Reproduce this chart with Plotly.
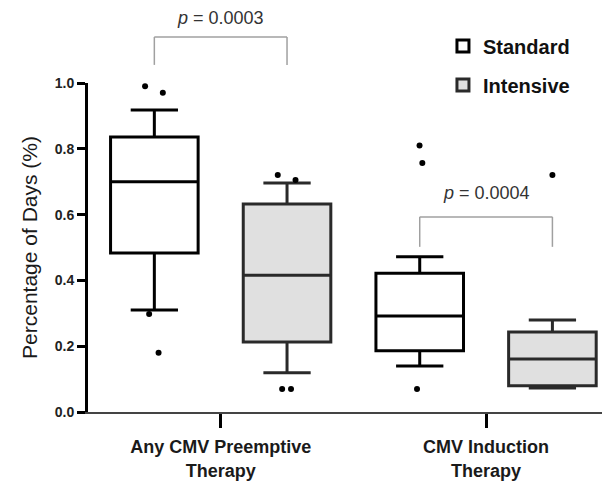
import plotly.graph_objects as go

categories = ["Any CMV Preemptive<br>Therapy", "CMV Induction<br>Therapy"]

# Box statistics (fraction of days)
std_q1 = [0.483, 0.186]
std_median = [0.70, 0.292]
std_q3 = [0.836, 0.422]
std_lower = [0.31, 0.14]
std_upper = [0.918, 0.472]
std_outliers = [[0.97, 0.99, 0.298, 0.18], [0.81, 0.757, 0.07]]

int_q1 = [0.213, 0.08]
int_median = [0.416, 0.161]
int_q3 = [0.632, 0.243]
int_lower = [0.119, 0.073]
int_upper = [0.696, 0.28]
int_outliers = [[0.72, 0.705, 0.07, 0.07], [0.72]]

y_ticks = [0.0, 0.2, 0.4, 0.6, 0.8, 1.0]
p_values = ["0.0003", "0.0004"]

FONT = "Arial, Liberation Sans, sans-serif"

fig = go.Figure()
fig.add_trace(go.Box(
    name="Standard", x=categories, q1=std_q1, median=std_median, q3=std_q3,
    lowerfence=std_lower, upperfence=std_upper, y=std_outliers,
    boxpoints="outliers", jitter=0.25, pointpos=0,
    fillcolor="white", line=dict(color="black", width=3),
    marker=dict(color="black", size=6), whiskerwidth=0.54,
    legendgroup="a", hoverinfo="skip",
))
fig.add_trace(go.Box(
    name="Intensive", x=categories, q1=int_q1, median=int_median, q3=int_q3,
    lowerfence=int_lower, upperfence=int_upper, y=int_outliers,
    boxpoints="outliers", jitter=0.25, pointpos=0,
    fillcolor="#e0e0e0", line=dict(color="#2a2a2a", width=3),
    marker=dict(color="black", size=6), whiskerwidth=0.54,
    legendgroup="b", hoverinfo="skip",
))

# significance brackets (box centres at category index +/- 0.25)
brackets = [(-0.25, 0.25, 1.055, 1.14), (0.75, 1.25, 0.502, 0.593)]
for (x0, x1, yb, yt) in brackets:
    for (a, b, c, d) in [(x0, yb, x0, yt), (x0, yt, x1, yt), (x1, yt, x1, yb)]:
        fig.add_shape(type="line", xref="x", yref="paper", x0=a, y0=b, x1=c, y1=d,
                      line=dict(color="#a0a0a0", width=1.5))

p_pos = [(0, 1.16), (1, 0.628)]
for (px, py), pv in zip(p_pos, p_values):
    fig.add_annotation(x=px, y=py, xref="x", yref="paper", text="<i>p</i> = " + pv,
                       showarrow=False, yanchor="bottom",
                       font=dict(family=FONT, size=18, color="#333333"))

fig.update_layout(
    width=602, height=473,
    margin=dict(l=80, r=0, t=75, b=69, autoexpand=False),
    paper_bgcolor="white", plot_bgcolor="white",
    boxmode="group", boxgap=0, boxgroupgap=0.34,
    font=dict(family=FONT, color="#1a1a1a"),
    showlegend=True,
    legend=dict(x=0.68, y=1.172, xanchor="left", yanchor="top",
                font=dict(family=FONT, size=20, color="#111111", weight="bold"),
                traceorder="grouped", tracegroupgap=10, bgcolor="rgba(0,0,0,0)"),
    xaxis=dict(type="category", range=[-0.5, 1.467], showline=True, linecolor="#444444",
               linewidth=1.5, ticks="outside", ticklen=14, tickwidth=3, tickcolor="black",
               showgrid=False, zeroline=False, ticklabelstandoff=4,
               tickfont=dict(family=FONT, size=18, color="#1a1a1a", weight="bold")),
    yaxis=dict(range=[0, 1.0], tickvals=y_ticks, tickformat=".1f", showline=True,
               linecolor="black", linewidth=3, ticks="outside", ticklen=8, tickwidth=3,
               tickcolor="black", showgrid=False, zeroline=False,
               tickfont=dict(family=FONT, size=14, color="#222222", weight="bold"),
               title=dict(text="Percentage of Days (%)", standoff=12,
                          font=dict(family=FONT, size=21, color="#1a1a1a"))),
)

fig.write_html("out.html")
